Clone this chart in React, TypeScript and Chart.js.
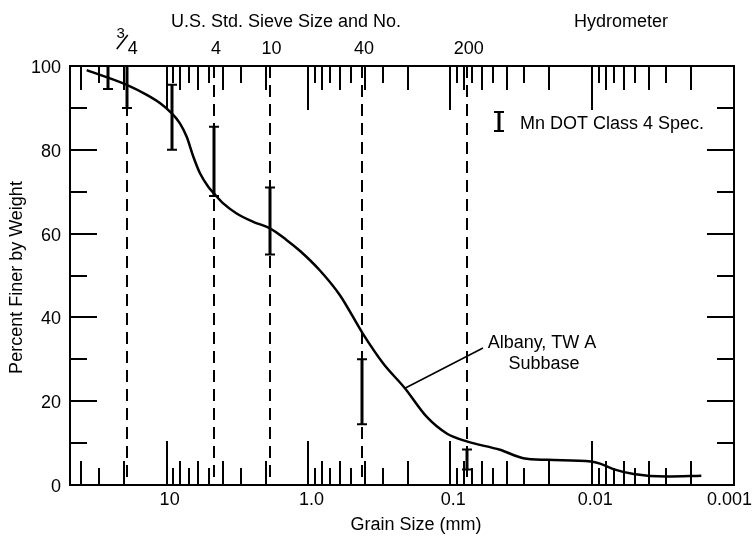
import React, { useEffect, useRef } from "react";
import { Chart, registerables } from "chart.js";

Chart.register(...registerables);

// Albany, TW A subbase gradation curve (grain size mm, percent finer)
const curveSizes = [36.6, 19.1, 13.8, 11.1, 9.2, 8.06, 7.22, 6.49, 5.82, 5.09, 4.64, 3.99, 3.21, 2.45, 1.88, 1.43, 1.14, 0.83, 0.6, 0.415, 0.297, 0.209, 0.147, 0.106, 0.0766, 0.0447, 0.0306, 0.0207, 0.0102, 0.0088, 0.0068, 0.0051, 0.003, 0.0017];
const curvePercents = [99.0, 95.5, 93.1, 91.1, 88.7, 86.3, 83.1, 78.4, 74.4, 71.2, 69.6, 67.2, 64.8, 62.8, 61.3, 58.5, 55.8, 51.2, 45.3, 36.2, 29.0, 23.1, 16.3, 12.3, 10.4, 8.4, 6.4, 6.0, 5.6, 5.1, 3.6, 2.6, 2.0, 2.2];

// Mn DOT Class 4 spec bands
const specSizes = [26, 19.1, 9.2, 4.64, 1.88, 0.42, 0.0766];
const specLow = [94.5, 90, 80, 69, 55, 14.5, 3.7];
const specHigh = [100, 100, 95.5, 85.5, 71, 30, 8.5];

// sieve lines
const sieveSizes = [19.1, 4.64, 1.88, 0.42, 0.0766];
const sieveLabels = ["3/4", "4", "10", "40", "200"];

// axis ticks
const xTickValues = [10, 1, 0.1, 0.01, 0.001];
const xTickLabels = ["10", "1.0", "0.1", "0.01", "0.001"];
const yTickValues = [0, 20, 40, 60, 80, 100];
const yMinorValues = [10, 30, 50, 70, 90];
const decades = [10, 1, 0.1, 0.01, 0.001];
const significands = [9, 8, 7, 6, 5, 4, 3, 2];
const extraMinor = [40, 30, 20];

const FONT = '"Liberation Sans", Arial, Helvetica, sans-serif';

const decorPlugin = {
  id: "decor",
  beforeDatasetsDraw(chart: any) {
    const { ctx, chartArea: a, scales } = chart;
    const x = scales.x;
    ctx.save();
    ctx.strokeStyle = "#000";
    ctx.lineWidth = 2;
    ctx.setLineDash([12, 7]);
    sieveSizes.forEach((s) => {
      const px = Math.round(x.getPixelForValue(s));
      ctx.beginPath();
      ctx.moveTo(px, a.top);
      ctx.lineTo(px, a.bottom);
      ctx.stroke();
    });
    ctx.restore();
  },
  afterDatasetsDraw(chart: any) {
    const { ctx, chartArea: a, scales } = chart;
    const x = scales.x;
    const y = scales.y;
    ctx.save();
    ctx.strokeStyle = "#000";
    ctx.fillStyle = "#000";
    ctx.setLineDash([]);

    // log minor / major ticks on top and bottom (pointing inward)
    const tickList: { v: number; len: number }[] = [];
    extraMinor.forEach((v) => tickList.push({ v, len: (v / 10) % 2 === 0 ? 24 : 17 }));
    decades.forEach((d) => {
      tickList.push({ v: d, len: 44 });
      if (d > 0.001) {
        significands.forEach((s) => {
          tickList.push({ v: (s * d) / 10, len: s % 2 === 0 ? 24 : 17 });
        });
      }
    });
    ctx.lineWidth = 2;
    tickList.forEach((t) => {
      const px = Math.round(x.getPixelForValue(t.v));
      if (px <= a.left + 1 || px >= a.right - 1) return;
      ctx.beginPath();
      ctx.moveTo(px, a.top);
      ctx.lineTo(px, a.top + t.len);
      ctx.moveTo(px, a.bottom);
      ctx.lineTo(px, a.bottom - t.len);
      ctx.stroke();
    });

    // y ticks on left and right (inward)
    yTickValues.concat(yMinorValues).forEach((v) => {
      if (v === 0 || v === 100) return;
      const py = Math.round(y.getPixelForValue(v));
      const len = v % 20 === 0 ? 27 : 17;
      ctx.beginPath();
      ctx.moveTo(a.left, py);
      ctx.lineTo(a.left + len, py);
      ctx.moveTo(a.right, py);
      ctx.lineTo(a.right - len, py);
      ctx.stroke();
    });

    // frame
    ctx.lineWidth = 2;
    ctx.strokeRect(a.left, a.top, a.right - a.left, a.bottom - a.top);

    // spec bars
    const drawBar = (px: number, y1: number, y2: number) => {
      ctx.lineWidth = 3;
      ctx.beginPath();
      ctx.moveTo(px, y1);
      ctx.lineTo(px, y2);
      ctx.stroke();
      ctx.lineWidth = 2;
      ctx.beginPath();
      ctx.moveTo(px - 5, y1);
      ctx.lineTo(px + 5, y1);
      ctx.moveTo(px - 5, y2);
      ctx.lineTo(px + 5, y2);
      ctx.stroke();
    };
    specSizes.forEach((s, i) => {
      const px = Math.round(x.getPixelForValue(s));
      drawBar(px, y.getPixelForValue(specHigh[i]), y.getPixelForValue(specLow[i]));
    });

    // legend
    drawBar(499, 112, 131);
    ctx.font = `18px ${FONT}`;
    ctx.textAlign = "left";
    ctx.textBaseline = "middle";
    ctx.fillText("Mn DOT Class 4 Spec.", 520, 124);

    // x tick labels
    ctx.textAlign = "center";
    xTickValues.forEach((v, i) => {
      const w = ctx.measureText(xTickLabels[i]).width;
      const px = Math.min(x.getPixelForValue(v) + 3, 752 - w / 2);
      ctx.fillText(xTickLabels[i], px, a.bottom + 15);
    });

    // y tick labels
    ctx.textAlign = "right";
    yTickValues.forEach((v) => {
      ctx.fillText(String(v), a.left - 9, y.getPixelForValue(v) + 2);
    });

    // sieve labels on top
    ctx.textAlign = "center";
    sieveSizes.forEach((s, i) => {
      const px = x.getPixelForValue(s);
      const lab = sieveLabels[i];
      if (lab === "3/4") {
        ctx.font = `15px ${FONT}`;
        ctx.fillText("3", px - 6, a.top - 32);
        ctx.font = `18px ${FONT}`;
        ctx.fillText("4", px + 6, a.top - 17);
        ctx.lineWidth = 1.6;
        ctx.beginPath();
        ctx.moveTo(px - 10, a.top - 17);
        ctx.lineTo(px + 1, a.top - 31);
        ctx.stroke();
      } else {
        ctx.font = `18px ${FONT}`;
        ctx.fillText(lab, px + 2, a.top - 17);
      }
    });

    // titles
    ctx.font = `18px ${FONT}`;
    ctx.fillText("U.S. Std. Sieve Size and No.", 286, 22);
    ctx.fillText("Hydrometer", 621, 22);
    ctx.fillText("Grain Size (mm)", 416, a.bottom + 40);

    ctx.save();
    ctx.translate(17, (a.top + a.bottom) / 2 + 2);
    ctx.rotate(-Math.PI / 2);
    ctx.fillText("Percent Finer by Weight", 0, 0);
    ctx.restore();

    // annotation
    ctx.fillText("Albany, TW A", 542, 343);
    ctx.fillText("Subbase", 544, 364);
    const ax = x.getPixelForValue(curveSizes[21]);
    const ay = y.getPixelForValue(curvePercents[21]);
    ctx.lineWidth = 1.5;
    ctx.beginPath();
    ctx.moveTo(ax, ay);
    ctx.lineTo(483, 348);
    ctx.stroke();

    ctx.restore();
  },
};

export default function App() {
  const ref = useRef<HTMLCanvasElement>(null);
  useEffect(() => {
    if (!ref.current) return;
    const chart = new Chart(ref.current, {
      type: "line",
      data: {
        datasets: [
          {
            label: "Albany, TW A Subbase",
            data: curveSizes.map((s, i) => ({ x: s, y: curvePercents[i] })),
            borderColor: "#000",
            borderWidth: 2.5,
            pointRadius: 0,
            fill: false,
            cubicInterpolationMode: "monotone",
          },
        ],
      },
      options: {
        responsive: false,
        animation: false,
        devicePixelRatio: 1,
        layout: { padding: { left: 70, right: 21, top: 66, bottom: 53 } },
        plugins: { legend: { display: false }, tooltip: { enabled: false } },
        scales: {
          x: { type: "logarithmic", reverse: true, min: 0.001, max: 48, display: false },
          y: { type: "linear", min: 0, max: 100, display: false },
        },
      },
      plugins: [decorPlugin],
    } as any);
    return () => chart.destroy();
  }, []);
  return (
    <div style={{ position: "fixed", left: 0, top: 0, width: 755, height: 538, background: "#fff" }}>
      <canvas ref={ref} width={755} height={538} style={{ display: "block" }} />
    </div>
  );
}
